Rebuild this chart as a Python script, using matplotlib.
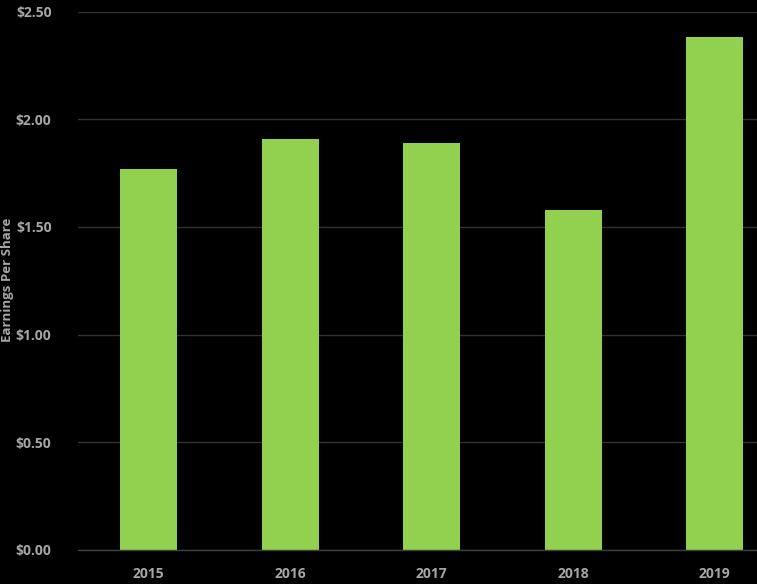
import matplotlib
matplotlib.use("Agg")
import matplotlib.pyplot as plt
from matplotlib.ticker import FuncFormatter

years = ["2015", "2016", "2017", "2018", "2019"]
eps = [1.77, 1.91, 1.89, 1.58, 2.38]
yticks = [0.0, 0.5, 1.0, 1.5, 2.0, 2.5]

W, H = 757, 584
fig = plt.figure(figsize=(W / 100, H / 100), dpi=100, facecolor="black")
ax = fig.add_axes([78 / W, (H - 550) / H, 707.5 / W, (550 - 11.5) / H])
ax.set_facecolor("black")

x = list(range(len(years)))
ax.bar(x, eps, width=0.4, color="#92D050", zorder=3)
ax.set_xlim(-0.5, len(years) - 0.5)
ax.set_ylim(0, 2.5)
ax.set_yticks(yticks)
ax.yaxis.set_major_formatter(FuncFormatter(lambda v, p: f"${v:.2f}"))
ax.set_xticks(x)
ax.set_xticklabels(years)

ax.grid(axis="y", color="#333333", linewidth=1, zorder=0)
for s in ["top", "right", "left"]:
    ax.spines[s].set_visible(False)
ax.spines["bottom"].set_color("#3f3f3f")
ax.spines["bottom"].set_linewidth(1)
ax.spines["bottom"].set_zorder(4)
ax.tick_params(axis="both", length=0, colors="#a6a6a6")
ax.tick_params(axis="y", pad=19)
ax.tick_params(axis="x", pad=12)
for lab in ax.get_xticklabels() + ax.get_yticklabels():
    lab.set_fontfamily("Open Sans")
    lab.set_fontweight("bold")
    lab.set_fontsize(10)

ax.set_ylabel("Earnings Per Share", color="#a6a6a6", fontsize=9.5,
              fontweight="bold", family="Open Sans")
ax.yaxis.set_label_coords((14 - 78) / 707.5, (550 - 280) / 538.5)

fig.savefig("out.png", dpi=100, facecolor="black")
